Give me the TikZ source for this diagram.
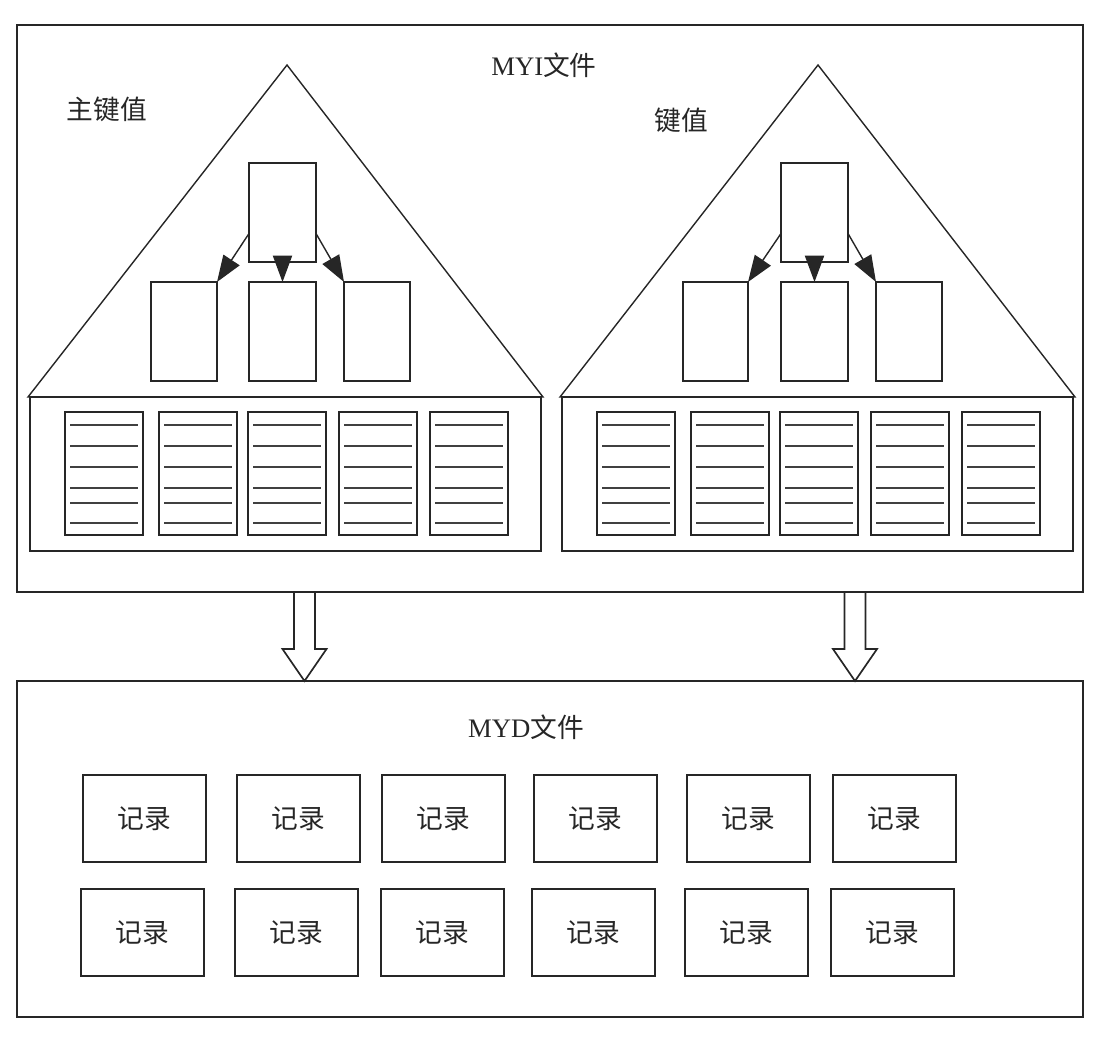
\documentclass[tikz,border=0pt]{standalone}
\usepackage{fontspec}
\setmainfont{Liberation Serif}
\newfontfamily\cjk{Noto Sans CJK SC}
\usetikzlibrary{arrows.meta,calc}
\begin{document}
\begin{tikzpicture}[x=0.025cm,y=-0.025cm,
  line width=1.2pt,
  bx/.style n args={4}{draw=black!85, line width=1.2pt, rectangle, inner sep=0pt, outer sep=0pt,
     minimum width={(#3-#1)*0.025cm}, minimum height={(#4-#2)*0.025cm},
     at={({(#1+#3)/2},{(#2+#4)/2})}},
  tri/.style={draw=black!85, line width=1pt, line join=miter},
  pageline/.style={draw=black!75, line width=1.4pt},
  lbl/.style={font=\fontsize{19}{23}\selectfont, inner sep=0pt, text=black!85},
  rec/.style={font=\cjk\fontsize{19}{23}\selectfont, text=black!85},
  ptr/.style={-{Triangle[length=0.66cm,width=0.48cm]}, draw=black!85, line width=1pt},
  hollow/.style={draw=black!85, line width=1.2pt, line join=miter}
]
\useasboundingbox (0,0) rectangle (1110,1048);

% outer files
\node[bx={17}{25}{1083}{592}] (myi) {};
\node[bx={17}{681}{1083}{1017}] (myd) {};

\node[lbl] (tMYI) at (544,65) {MYI{\cjk 文件}};
\node[lbl] (tMYD) at (526,727) {MYD{\cjk 文件}};

% ---------- left tree (primary key) ----------
\draw[tri] (287,65) -- (28,397) -- (543,397) -- cycle;
\node[bx={30}{397}{541}{551}] (leafA) {};
\node[lbl] (tA) at (107,109) {\cjk 主键值};

\node[bx={249}{163}{316}{262}] (rootA) {};
\node[bx={151}{282}{217}{381}] (a1) {};
\node[bx={249}{282}{316}{381}] (a2) {};
\node[bx={344}{282}{410}{381}] (a3) {};
\draw[ptr] ($(rootA.west)+(0,21)$) -- (a1.north east);
\draw[ptr] (rootA.south) -- (a2.north);
\draw[ptr] ($(rootA.east)+(0,21)$) -- (a3.north west);

\foreach \x [count=\i] in {65,159,248,339,430} {
  \node[bx={\x}{412}{\x+78}{535}] (pa\i) {};
  \foreach \yy in {13,34,55,76,91,111}
    \draw[pageline] ($(pa\i.north west)+(5,\yy)$) -- ($(pa\i.north east)+(-5,\yy)$);
}

% ---------- right tree (key) ----------
\draw[tri] (818,65) -- (560,397) -- (1075,397) -- cycle;
\node[bx={562}{397}{1073}{551}] (leafB) {};
\node[lbl] (tB) at (681,120) {\cjk 键值};

\node[bx={781}{163}{848}{262}] (rootB) {};
\node[bx={683}{282}{748}{381}] (b1) {};
\node[bx={781}{282}{848}{381}] (b2) {};
\node[bx={876}{282}{942}{381}] (b3) {};
\draw[ptr] ($(rootB.west)+(0,21)$) -- (b1.north east);
\draw[ptr] (rootB.south) -- (b2.north);
\draw[ptr] ($(rootB.east)+(0,21)$) -- (b3.north west);

\foreach \x [count=\i] in {597,691,780,871,962} {
  \node[bx={\x}{412}{\x+78}{535}] (pb\i) {};
  \foreach \yy in {13,34,55,76,91,111}
    \draw[pageline] ($(pb\i.north west)+(5,\yy)$) -- ($(pb\i.north east)+(-5,\yy)$);
}

% ---------- hollow arrows MYI -> MYD ----------
\coordinate (h1s) at (304.5,592);
\coordinate (h1t) at (304.5,681);
\coordinate (h2s) at (855,592);
\coordinate (h2t) at (855,681);
\draw[hollow] ($(h1s)+(-10.5,0)$) -- ++(0,57) -- ++(-11.5,0) -- (h1t) -- ++(22,-32) -- ++(-11.5,0) -- ++(0,-57);
\draw[hollow] ($(h2s)+(-10.5,0)$) -- ++(0,57) -- ++(-11.5,0) -- (h2t) -- ++(22,-32) -- ++(-11.5,0) -- ++(0,-57);

% ---------- records ----------
\foreach \x [count=\i] in {83,237,382,534,687,833}
  \node[bx={\x}{775}{\x+123}{862}, rec] (ra\i) {记录};
\foreach \x [count=\i] in {81,235,381,532,685,831}
  \node[bx={\x}{889}{\x+123}{976}, rec] (rb\i) {记录};
\end{tikzpicture}
\end{document}
